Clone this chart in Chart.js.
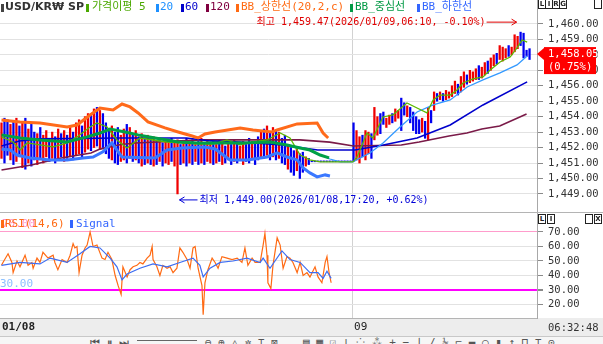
<!DOCTYPE html>
<html>
<head>
<meta charset="utf-8">
<script src="https://cdn.jsdelivr.net/npm/chart.js@4/dist/chart.umd.min.js"></script>
<style>
  html, body { margin: 0; padding: 0; background: #fff; }
  #wrap { position: relative; width: 603px; height: 344px; overflow: hidden; background: #fff;
          font-family: "DejaVu Sans Mono", "Noto Sans CJK KR", monospace; }
  canvas { position: absolute; left: 0; z-index: 2; }
  #main { top: 0; }
  #rsi { top: 212px; }
  #dateBand { position: absolute; left: 0; top: 318px; width: 603px; height: 18px; background: #ededed; z-index: 1; }
  #toolbar { position: absolute; left: 0; top: 336px; width: 603px; height: 8px; background: #f6f6f6;
             border-top: 1px solid #c8c8c8; z-index: 3; overflow: hidden; color: #555; font-size: 11px; }
  #toolbar span { position: absolute; top: 0; line-height: 12px; }
  .sep { position: absolute; left: 0; width: 603px; height: 1px; background: #b4b4b4; z-index: 3; }
  .lg { position: absolute; font-size: 11px; line-height: 14px; white-space: nowrap; z-index: 4; }
  .mk { position: absolute; width: 3px; height: 8px; z-index: 4; }
  .box { position: absolute; width: 6px; height: 8px; border: 1px solid #222; font: bold 7px/8px "DejaVu Sans", sans-serif;
         text-align: center; color: #222; background: #fff; z-index: 4; }
  #clock { position: absolute; left: 548px; top: 320px; font-size: 10.5px; line-height: 14px; color: #333; z-index: 4; }
</style>
</head>
<body>
<div id="wrap">
  <div id="dateBand"></div>
  <canvas id="main" width="603" height="212"></canvas>
  <canvas id="rsi" width="603" height="124"></canvas>
  <div class="sep" style="top:212px"></div>

  <!-- price panel legend -->
  <div class="mk" style="left:1px;top:4px;background:#444"></div>
  <div class="lg" style="left:5px;top:0;color:#333;font-weight:bold;font-family:'DejaVu Sans',sans-serif">USD/KR₩ SP</div>
  <div class="mk" style="left:86px;top:4px;background:#4aa800"></div>
  <div class="lg" style="left:92px;top:0;color:#4aa800">가격이평 5</div>
  <div class="mk" style="left:156px;top:4px;background:#1e90ff"></div>
  <div class="lg" style="left:160px;top:0;color:#1e90ff">20</div>
  <div class="mk" style="left:181px;top:4px;background:#0000cc"></div>
  <div class="lg" style="left:185px;top:0;color:#0000cc">60</div>
  <div class="mk" style="left:206px;top:4px;background:#800040"></div>
  <div class="lg" style="left:210px;top:0;color:#800040">120</div>
  <div class="mk" style="left:236px;top:4px;background:#ff6a13"></div>
  <div class="lg" style="left:241px;top:0;color:#ff6a13">BB_상한선(20,2,c)</div>
  <div class="mk" style="left:350px;top:4px;background:#009944"></div>
  <div class="lg" style="left:355px;top:0;color:#009944">BB_중심선</div>
  <div class="mk" style="left:417px;top:4px;background:#3366ff"></div>
  <div class="lg" style="left:422px;top:0;color:#3366ff">BB_하한선</div>

  <div class="box" style="left:538px;top:-1px">L</div>
  <div class="box" style="left:545px;top:-1px">I</div>
  <div class="box" style="left:552px;top:-1px">R</div>
  <div class="box" style="left:559px;top:-1px">G</div>
  <div class="box" style="left:594px;top:-1px"></div>

  <!-- RSI panel legend -->
  <div class="lg" style="left:2px;top:217px;color:#ff8fc8">70.00</div>
  <div class="mk" style="left:1px;top:220px;background:#ff6a13"></div>
  <div class="lg" style="left:5px;top:217px;color:#ff6a13">RSI(14,6)</div>
  <div class="mk" style="left:70px;top:220px;background:#3366ff"></div>
  <div class="lg" style="left:76px;top:217px;color:#3366ff">Signal</div>
  <div class="lg" style="left:0;top:277px;color:#8cc0ff">30.00</div>

  <div class="box" style="left:538px;top:214px">L</div>
  <div class="box" style="left:547px;top:214px">I</div>
  <div class="box" style="left:585px;top:214px"></div>
  <div class="box" style="left:594px;top:214px">X</div>

  <div id="clock">06:32:48</div>

  <div id="toolbar">
    <span style="left:90px">⏮ ⏸ ⏭</span>
    <span style="left:137px;top:3px;width:60px;height:1px;background:#666"></span>
    <span style="left:205px">⊖ ⊕ △ ✲ ⊤ ⊠</span>
    <span style="left:303px">▤ ▦ ☑ ⊥ ⁘ ⁂ + − ∣ ∕ ½ ⌐ ▬ ○ ▮ ↕ ⊓ ⊤ ⊙</span>
  </div>
</div>

<script>
// ---- price panel data (index = bar slot, 0..177) ----
const highs = [
  1453.6, 1453.9, 1453.8, 1453.5, 1453.7, 1453.9, 1453.4, 1453.6, 1453.9, 1453.2,
  1453.5, 1453.0, 1452.9, 1453.3, 1452.8, 1453.1, 1452.6, 1453.0, 1452.7, 1453.2,
  1452.9, 1453.1, 1452.8, 1453.4, 1453.0, 1453.6, 1453.8, 1453.4, 1454.0, 1454.2,
  1454.1, 1454.5, 1454.6, 1454.4, 1454.2, 1453.6, 1453.2, 1453.4, 1453.0, 1453.3,
  1452.8, 1453.2, 1453.5, 1453.3, 1452.9, 1453.1, 1452.7, 1452.9, 1452.6, 1452.8,
  1452.5, 1452.7, 1452.4, 1452.6, 1452.3, 1452.5, 1452.4, 1452.6, 1452.3, 1452.5,
  1452.2, 1452.4, 1452.6, 1452.3, 1452.5, 1452.2, 1452.4, 1452.6, 1452.3, 1452.5,
  1452.2, 1452.4, 1452.2, 1452.5, 1452.3, 1452.1, 1452.4, 1452.2, 1452.5, 1452.3,
  1452.1, 1452.4, 1452.2, 1452.6, 1452.4, 1452.3, 1452.7, 1453.1, 1453.2, 1453.4,
  1453.0, 1453.3, 1453.1, 1453.0, 1452.6, 1452.8, 1452.2, 1452.0, 1451.8, 1451.9,
  1451.6, 1451.7, 1451.4, 1451.3,
  1451.14, 1451.14, 1451.14, 1451.14, 1451.14, 1451.14, 1451.14,
  1451.14, 1451.14, 1451.14, 1451.14, 1451.14, 1451.14, 1451.14,
  1453.6, 1453.1, 1452.7, 1452.8, 1453.1, 1453.0, 1452.9, 1454.6, 1454.0, 1454.2,
  1454.3, 1453.9, 1454.1, 1454.2, 1454.5, 1454.4, 1455.2, 1454.9, 1454.7, 1454.6,
  1454.3, 1454.0, 1453.8, 1453.9, 1453.7, 1454.6, 1454.4, 1455.6, 1455.5, 1455.6,
  1455.5, 1455.7, 1455.6, 1456.0, 1456.3, 1456.1, 1456.6, 1456.9, 1456.7, 1457.0,
  1456.9, 1457.1, 1457.3, 1457.2, 1457.5, 1457.6, 1457.8, 1458.0, 1458.1, 1458.6,
  1458.5, 1458.4, 1458.6, 1458.5, 1459.3, 1459.2, 1459.47, 1459.4, 1458.3, 1458.4
];
const lows = [
  1451.3, 1451.0, 1451.5, 1451.2, 1450.9, 1451.1, 1451.4, 1450.7, 1450.6, 1451.0,
  1450.8, 1451.2, 1450.9, 1451.3, 1451.0, 1451.4, 1451.1, 1451.3, 1451.0, 1451.2,
  1451.4, 1451.1, 1451.3, 1451.4, 1451.2, 1451.5, 1451.6, 1451.3, 1451.7, 1451.9,
  1451.8, 1452.0, 1452.1, 1451.9, 1452.0, 1451.6, 1451.3, 1451.2, 1451.0, 1450.9,
  1451.1, 1451.2, 1451.0, 1451.3, 1451.1, 1451.2, 1451.0, 1450.8, 1450.9, 1451.0,
  1450.9, 1450.8, 1450.9, 1451.1, 1450.8, 1451.0, 1450.9, 1451.1, 1450.8, 1449.0,
  1450.9, 1451.0, 1450.8, 1451.0, 1450.9, 1451.1, 1450.9, 1451.0, 1450.9, 1451.1,
  1451.0, 1450.9, 1451.0, 1451.1, 1450.9, 1451.0, 1451.2, 1450.9, 1451.1, 1451.0,
  1451.2, 1450.9, 1451.1, 1451.0, 1451.2, 1450.9, 1451.2, 1451.4, 1451.3, 1451.5,
  1451.2, 1451.4, 1451.2, 1451.3, 1451.0, 1450.9, 1450.6, 1450.4, 1450.2, 1450.5,
  1450.0, 1450.4, 1450.8, 1450.9,
  1451.08, 1451.08, 1451.08, 1451.08, 1451.08, 1451.08, 1451.08,
  1451.08, 1451.08, 1451.08, 1451.08, 1451.08, 1451.08, 1451.08,
  1451.1, 1451.2, 1451.0, 1451.4, 1451.2, 1451.6, 1451.3, 1452.5, 1452.8, 1452.9,
  1453.5, 1453.3, 1453.5, 1453.6, 1453.7, 1453.9, 1453.1, 1454.1, 1454.0, 1453.6,
  1453.1, 1452.9, 1452.9, 1453.0, 1452.6, 1452.5, 1453.6, 1454.4, 1455.0, 1455.1,
  1455.0, 1455.1, 1455.2, 1455.3, 1455.5, 1455.4, 1455.6, 1455.9, 1456.1, 1456.2,
  1456.3, 1456.4, 1456.4, 1456.5, 1456.7, 1456.8, 1457.0, 1457.3, 1457.4, 1457.7,
  1457.6, 1457.8, 1457.9, 1458.0, 1458.2, 1458.4, 1458.6, 1457.8, 1457.9, 1457.7
];
// u = 양봉(red), d = 음봉(blue)
const dirs =
  'uddudududu' + 'dduduududu' + 'dududuuduu' + 'dududddudd' + 'uududududu' +
  'dududuuduu' + 'dududududu' + 'ududududud' + 'uudduddudu' + 'dududduddu' +
  'ddud' + 'dddddddddddddd' +
  'duuduuduud' + 'duuduuddud' + 'dddudududu' + 'duuuuduudu' + 'uuduuduudu' + 'uuduuudddd';

const lastClose = 1458.05;
const lastChange = '0.75%';
const hiNote = '2026/01/09,06:10, -0.10%';
const loNote = '2026/01/08,17:20, +0.62%';

// moving averages / bollinger, [slot, price]
const ma5 = [[0,1452.69],[3.9,1452.36],[6.2,1451.84],[8.6,1452.30],[12.9,1452.17],[17.3,1452.04],[22,1452.30],
  [25.3,1452.69],[29.7,1453.33],[32,1453.59],[35.4,1453.33],[38.7,1452.49],[42.1,1451.97],[46.4,1452.62],
  [50.8,1452.49],[55.5,1452.36],[59.8,1452.30],[66.5,1452.23],[70.9,1452.23],[75.6,1452.49],[80,1452.17],
  [84.3,1452.36],[89,1452.49],[93.4,1452.94],[96.7,1452.62],[100.1,1451.52],[103.4,1451.2],[106.8,1451.07],
  [117.8,1451.07],[119.2,1451.39],[122.5,1452.94],[124.5,1452.62],[127.9,1453.98],[131.2,1454.11],
  [135.9,1454.89],[139.3,1454.56],[142.6,1454.24],[144.7,1455.08],[147,1455.4],[150.4,1455.4],
  [152.7,1455.73],[154.7,1456.18],[158.1,1456.44],[161.4,1456.57],[163.8,1457.02],[167.1,1457.54],
  [170.5,1457.86],[172.8,1458.45],[174.5,1458.96],[176.2,1458.83]];
const ma20 = [[100.1,1452.04],[104.4,1451.72],[106.8,1451.52],[110.1,1451.26],[113.5,1451.07],[117.8,1451.07],
  [123.5,1451.65],[127.9,1452.30],[133.6,1453.33],[139.3,1454.30],[144.7,1454.76],[150.4,1455.08],
  [156.1,1455.92],[161.4,1456.38],[167.1,1456.83],[172.8,1457.35],[176.2,1457.93]];
const ma60 = [[0,1452.10],[6,1452.43],[13,1452.56],[39,1452.62],[62,1452.62],[70,1452.43],[80,1452.36],
  [94,1452.17],[106,1451.84],[118.5,1451.84],[128,1452.17],[139.3,1452.62],[150.4,1453.46],
  [161.4,1454.76],[176.2,1456.25]];
const ma120 = [[0,1450.55],[10,1450.87],[20,1451.33],[30,1451.65],[33,1451.9],[40,1452.2],[45,1452.3],
  [67,1452.5],[100,1452.5],[110,1452.35],[118,1452.1],[134,1452.17],[140,1452.36],[150,1452.75],
  [156,1452.94],[161,1453.2],[167,1453.4],[176,1454.17]];
const bbUpper = [[0,1453.79],[6.2,1453.66],[12.9,1453.59],[22,1453.33],[25.3,1453.46],[29.7,1454.11],[33,1454.56],
  [37.4,1454.43],[40.4,1454.82],[43.1,1454.63],[45.8,1454.24],[49.1,1453.66],[54.8,1453.27],[59.2,1453.01],
  [63.9,1452.75],[65.9,1452.62],[68.2,1452.88],[71.6,1453.01],[80,1453.27],[84.3,1453.14],[90.7,1453.01],
  [92.4,1453.14],[99.1,1453.53],[105.8,1453.59],[107.8,1452.94],[109.5,1452.62]];
const bbMiddle = [[0,1452.82],[6.2,1452.62],[12.9,1452.49],[22,1452.36],[28.7,1452.69],[33,1452.94],[36.4,1453.20],
  [41.4,1453.01],[45.8,1452.82],[51.5,1452.62],[59.2,1452.36],[65.9,1452.30],[81,1452.30],[90,1452.36],
  [95.7,1452.17],[100.1,1451.97],[103.4,1451.84],[106.8,1451.52],[109.8,1451.33]];
const bbLower = [[0,1451.91],[2.9,1451.84],[5.2,1451.52],[9.6,1451.33],[16.3,1451.20],[22,1451.20],[27.3,1451.33],
  [30.7,1451.39],[34,1451.72],[37,1452.30],[38.7,1451.84],[40.4,1451.39],[51.5,1451.33],[55.5,1451.84],
  [60.5,1451.97],[68.2,1452.04],[71.6,1451.91],[76.6,1451.20],[82.3,1451.20],[89,1451.39],[92.4,1451.65],
  [95.7,1451.39],[99.1,1451.20],[101.1,1450.68],[103.4,1450.36],[105.8,1450.10],[108.5,1450.23],[110.1,1450.16]];

// ---- RSI panel data ----
const rsi = [[0,47],[0.5,49],[2.2,55],[3.5,49],[3.9,42],[5.2,50],[6.2,46],[7.9,54],[8.9,47],[10.2,49],[10.6,45],
  [11.9,52],[12.9,49],[13.9,56],[15.6,52],[17.3,54],[17.9,49],[18.9,44],[20.3,51],[22,49],[23,54],[24,62],
  [24.6,59],[25.3,60],[26,42],[27,54],[28,59],[28.7,61],[29.7,70],[30.7,60],[32,61],[33.7,52],[34.7,51],
  [35.7,56],[37,51],[38.1,40],[39.1,33],[40.1,27],[40.7,46],[42.1,39],[43.1,44],[44.1,46],[45.4,47],[46.4,49],
  [47.4,48],[48.8,52],[49.8,54],[50.5,60],[50.8,51],[52.1,46],[53.1,40],[54.1,47],[55.5,45],[56.5,46],
  [57.5,42],[58.8,45],[59.8,59],[60.8,56],[62.2,51],[63.2,45],[64.2,59],[64.9,60],[65.9,45],[67.2,33],
  [67.6,13],[68.2,35],[69.2,44],[70.6,52],[71.6,49],[72.6,45],[73.9,53],[75.6,52],[77.3,51],[79,52],
  [80.6,49],[81.6,59],[82.6,47],[84,52],[85,49],[86.7,49],[87.7,61],[88.3,69],[89,54],[89.3,35],[90.3,31],
  [91,47],[92.4,66],[93.4,61],[94.4,45],[95.7,53],[96.7,52],[97.7,49],[99.1,42],[100.1,49],[101.1,40],
  [102.4,42],[103.4,39],[105.1,46],[106.1,39],[107.4,35],[108.5,49],[109.1,53],[109.8,42],[110.5,35]];
const signal = [[0,47],[6.2,49],[12.9,48],[16.3,52],[22,49],[26.3,55],[29.7,60],[33,59],[36.4,52],[38.7,46],
  [40.4,37],[42.1,41],[46.4,45],[50.8,48],[55.5,46],[59.8,49],[64.2,52],[66.5,47],[67.6,39],[69.9,45],
  [73.3,49],[77.6,50],[82.3,52],[86.7,49],[87.7,52],[90,45],[94,57],[96.7,51],[100.1,49],[103.4,42],
  [106.1,42],[107.8,38],[109.1,43],[110.5,38]];

const priceTicks = [1449, 1450, 1451, 1452, 1453, 1454, 1455, 1456, 1457, 1458, 1459, 1460];
const rsiTicks = [20, 30, 40, 50, 60, 70];
const dateLabels = ['01/08', '09'];
const dayBreak = 117.5;

const SLOT_MIN = -0.5, SLOT_MAX = 179.5;
const MONO = '"DejaVu Sans Mono", "Noto Sans CJK KR", monospace';
const UP = '#f00000', DOWN = '#0000f0';

const fmt2 = v => v.toLocaleString('en-US', { minimumFractionDigits: 2, maximumFractionDigits: 2 });
const toXY = pts => pts.map(([x, y]) => ({ x, y }));

function lineSet(label, pts, color, width, order) {
  return { type: 'line', label, data: toXY(pts), borderColor: color, borderWidth: width,
           pointRadius: 0, tension: 0, fill: false, order };
}

function rightAxis(min, max, ticks) {
  return {
    position: 'right', min, max,
    afterBuildTicks: s => { s.ticks = ticks.map(v => ({ value: v })); },
    // fixed width, and no extra room for the end labels
    afterFit: s => { s.width = 66; s.paddingTop = 0; s.paddingBottom = 0; },
    ticks: { color: '#333', padding: 5, font: { family: MONO, size: 10.5 }, callback: v => fmt2(v) },
    grid: { color: '#e2e2e2', tickColor: '#8a8a8a', tickLength: 6 },
    border: { color: '#a8a8a8' }
  };
}

function arrow(ctx, x0, y, x1) {
  const d = Math.sign(x1 - x0);
  ctx.beginPath();
  ctx.moveTo(x0, y); ctx.lineTo(x1, y);
  ctx.moveTo(x1 - d * 5, y - 3); ctx.lineTo(x1, y); ctx.lineTo(x1 - d * 5, y + 3);
  ctx.stroke();
}

// 최고/최저 표시 + 현재가 태그
const priceMarks = {
  id: 'priceMarks',
  afterDatasetsDraw(chart) {
    const { ctx, chartArea, scales: { x, y } } = chart;
    ctx.save();
    ctx.font = '10px ' + MONO;
    ctx.lineWidth = 1;
    ctx.textBaseline = 'middle';

    const hi = Math.max(...highs), hiIdx = highs.indexOf(hi);
    const hx = x.getPixelForValue(hiIdx) - 4, hy = y.getPixelForValue(hi) - 10;
    ctx.strokeStyle = ctx.fillStyle = '#e00000';
    arrow(ctx, hx - 30, hy, hx);
    ctx.textAlign = 'right';
    ctx.fillText(`최고 ${fmt2(hi)}(${hiNote})`, hx - 31, hy);

    const lo = Math.min(...lows), loIdx = lows.indexOf(lo);
    const lx = x.getPixelForValue(loIdx) + 2, ly = y.getPixelForValue(lo) + 6;
    ctx.strokeStyle = ctx.fillStyle = '#0000d8';
    arrow(ctx, lx + 18, ly, lx);
    ctx.textAlign = 'left';
    ctx.fillText(`최저 ${fmt2(lo)}(${loNote})`, lx + 20, ly);

    // current price tag on the axis
    const py = y.getPixelForValue(lastClose), r = chartArea.right;
    ctx.fillStyle = '#ff0000';
    ctx.beginPath();
    ctx.moveTo(r, py); ctx.lineTo(r + 7, py - 6); ctx.lineTo(r + 7, py + 6); ctx.closePath(); ctx.fill();
    ctx.fillRect(r + 7, py - 7, 52, 27);
    ctx.fillStyle = '#fff';
    ctx.font = '10.5px ' + MONO;
    ctx.fillText(fmt2(lastClose), r + 11, py);
    ctx.fillText(`(${lastChange})`, r + 11, py + 13);
    ctx.restore();
  }
};

new Chart(document.getElementById('main'), {
  type: 'bar',
  data: {
    datasets: [
      lineSet('BB_중심선', bbMiddle, '#00a046', 3, 1),
      lineSet('BB_상한선', bbUpper, '#ff6a1a', 3, 2),
      lineSet('BB_하한선', bbLower, '#3a78ff', 3, 2),
      lineSet('가격이평 5', ma5, '#5cb800', 1.3, 3),
      lineSet('20', ma20, '#3399ff', 1.3, 4),
      lineSet('60', ma60, '#0000cc', 1.6, 4),
      lineSet('120', ma120, '#7a1a48', 1.6, 4),
      {
        type: 'bar', label: 'USD/KRW',
        data: highs.map((h, i) => ({ x: i, y: [lows[i], h] })),
        backgroundColor: dirs.split('').map(d => d === 'u' ? UP : DOWN),
        barThickness: 1.6, order: 10
      }
    ]
  },
  options: {
    responsive: false, animation: false,
    layout: { padding: 0, autoPadding: false },
    plugins: { legend: { display: false }, tooltip: { enabled: false } },
    scales: {
      x: {
        type: 'linear', min: SLOT_MIN, max: SLOT_MAX, offset: false,
        afterBuildTicks: s => { s.ticks = [{ value: dayBreak }]; },
        afterFit: s => { s.height = 0; s.paddingLeft = 0; s.paddingRight = 0; },
        ticks: { display: false },
        grid: { color: '#d2d2d2', drawTicks: false, offset: false },
        border: { display: false }
      },
      y: rightAxis(1447.83, 1461.55, priceTicks)
    }
  },
  plugins: [priceMarks]
});

const rsiY = rightAxis(10.69, 83.79, rsiTicks);
rsiY.grid.color = c => c.tick.value === 70 ? '#ff9ccc' : c.tick.value === 30 ? '#ff00ff' : '#e2e2e2';
rsiY.grid.lineWidth = c => c.tick.value === 30 ? 2 : 1;

new Chart(document.getElementById('rsi'), {
  type: 'line',
  data: {
    datasets: [
      lineSet('Signal', signal, '#3d6df2', 1.2, 1),
      lineSet('RSI(14,6)', rsi, '#ff6a13', 1.2, 2)
    ]
  },
  options: {
    responsive: false, animation: false,
    layout: { padding: 0, autoPadding: false },
    plugins: { legend: { display: false }, tooltip: { enabled: false } },
    scales: {
      x: {
        type: 'linear', min: SLOT_MIN, max: SLOT_MAX, offset: false,
        afterBuildTicks: s => { s.ticks = [{ value: SLOT_MIN }, { value: dayBreak }]; },
        afterFit: s => { s.height = 18; s.paddingLeft = 0; s.paddingRight = 0; },
        ticks: {
          align: 'start', padding: 3, labelOffset: 2, color: '#222', maxRotation: 0, autoSkip: false,
          callback: (v, i) => dateLabels[i],
          font: c => ({ family: MONO, size: 11, weight: c.index === 0 ? 'bold' : 'normal' })
        },
        grid: { color: c => c.index === 0 ? 'rgba(0,0,0,0)' : '#d2d2d2', drawTicks: false, offset: false },
        border: { color: '#b4b4b4' }
      },
      y: rsiY
    }
  }
});
</script>
</body>
</html>
